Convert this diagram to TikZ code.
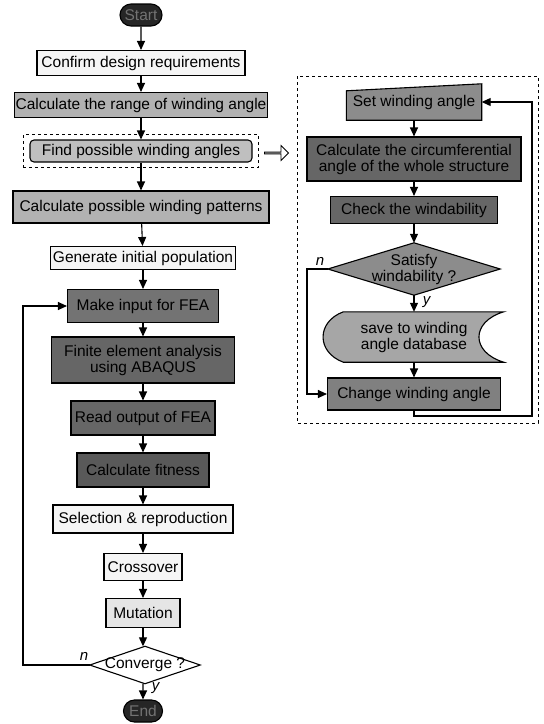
\documentclass[tikz,border=0pt]{standalone}
\usepackage{fontspec}
\setmainfont{Liberation Sans}
\usetikzlibrary{shapes.misc,shapes.arrows,arrows.meta,fit,backgrounds}

\begin{document}
\begin{tikzpicture}[x=1pt, y=-1pt, font=\fontsize{15.5}{16}\selectfont,
	box/.style={draw, line width=1.1pt, inner sep=1pt, align=center},
	term/.style={rounded rectangle, draw, line width=1.1pt, fill=black!85, text=black!55, minimum width=44, minimum height=22, inner sep=1pt},
	cond/.style={inner sep=0pt, align=center},
	condshape/.style={line width=1.1pt},
	arr/.style={-{Triangle[length=9pt,width=8pt]}, line width=1.1pt},
	lbl/.style={font=\fontsize{15}{16}\selectfont\itshape}]
	\useasboundingbox (0,0) rectangle (544,724);
	%main flow
	\node[term] (start) at (141,15) {Start};
	\node[box, fill=black!4, minimum width=208, minimum height=25] (confirm) at (141,63) {Confirm design requirements};
	\node[box, fill=black!30, minimum width=251, minimum height=25] (range) at (141,105) {Calculate the range of winding angle};
	\node[box, rounded corners=4pt, fill=black!25, minimum width=222, minimum height=22] (find) at (141,151) {Find possible winding angles};
	\node[draw, dashed, line width=0.8pt, fit=(find), inner xsep=6pt, inner ysep=5pt] (findframe) {};
	\node[box, fill=black!30, minimum width=256, minimum height=32] (patterns) at (141,207) {Calculate possible winding patterns};
	\node[box, fill=black!4, minimum width=185, minimum height=23] (initpop) at (143,258) {Generate initial population};
	\node[box, fill=black!55, minimum width=151, minimum height=33] (input) at (143,306) {Make input for FEA};
	\node[box, fill=black!60, minimum width=183, minimum height=46] (fea) at (143,360) {Finite element analysis\\using ABAQUS};
	\node[box, fill=black!60, minimum width=144, minimum height=34] (output) at (143,418) {Read output of FEA};
	\node[box, fill=black!65, minimum width=132, minimum height=34] (fitness) at (143,470) {Calculate fitness};
	\node[box, fill=black!4, minimum width=180, minimum height=28] (select) at (143,519) {Selection \& reproduction};
	\node[box, fill=black!4, minimum width=78, minimum height=27] (cross) at (143,567) {Crossover};
	\node[box, fill=black!10, minimum width=74, minimum height=29] (mutate) at (143,613) {Mutation};
	\node[cond, minimum width=110, minimum height=37] (converge) at (145,665) {Converge ?};
	\node[term, minimum width=41] (end) at (143,711) {End};
	\begin{pgfonlayer}{background}
		\filldraw[condshape, fill=white] (converge.north) -- (converge.east) -- (converge.south) -- (converge.west) -- cycle;
	\end{pgfonlayer}
	\coordinate (loopL) at (23,665);
	\draw[arr] (start) -- (confirm);
	\draw[arr] (confirm) -- (range);
	\draw[arr] (range) -- (find);
	\draw[arr] (find) -- (patterns);
	\draw[arr] (patterns) -- (initpop);
	\draw[arr] (initpop) -- (input);
	\draw[arr] (input) -- (fea);
	\draw[arr] (fea) -- (output);
	\draw[arr] (output) -- (fitness);
	\draw[arr] (fitness) -- (select);
	\draw[arr] (select) -- (cross);
	\draw[arr] (cross) -- (mutate);
	\draw[arr] (mutate) -- (mutate |- converge.north);
	\draw[arr] (mutate |- converge.south) -- (end) node[lbl, pos=0.3, right=5pt] {y};
	\draw[arr] (converge.west) -- (loopL) |- (input.west);
	\node[lbl] (nleft) at (84,656) {n};
	%link to the detail
	\node[single arrow, draw, line width=0.8pt, fill=white, minimum width=15, minimum height=24, single arrow head extend=3pt, inner sep=0pt] (hollow) at (276,153) {};
	%detail of find possible winding angles
	\draw[dashed, line width=0.8pt] (297,76) rectangle (538,423);
	\node[minimum width=135, minimum height=36, inner sep=1pt] (setang) at (414,102) {Set winding angle};
	\node[box, fill=black!60, minimum width=214, minimum height=44] (circum) at (414,159) {Calculate the circumferential\\angle of the whole structure};
	\node[box, fill=black!60, minimum width=167, minimum height=27] (check) at (414,210) {Check the windability};
	\node[cond, minimum width=172, minimum height=52] (satisfy) at (414,269) {Satisfy\\windability ?};
	\node[minimum width=179, minimum height=50, align=center, inner sep=1pt] (save) at (414,337) {save to winding\\angle database};
	\node[box, fill=black!50, minimum width=173, minimum height=32] (change) at (414,394) {Change winding angle};
	\begin{pgfonlayer}{background}
		\filldraw[fill=black!45, line width=1.1pt] (setang.south west) -- (setang.south east) -- (setang.north east) -- ([yshift=-7pt]setang.north west) -- cycle;
		\filldraw[condshape, fill=black!45] (satisfy.north) -- (satisfy.east) -- (satisfy.south) -- (satisfy.west) -- cycle;
		\filldraw[fill=black!35, line width=1.1pt] ([xshift=19pt]save.north west) -- (save.north east)
		.. controls ([xshift=-33pt,yshift=-10pt]save.north east) and ([xshift=-33pt,yshift=10pt]save.south east) .. (save.south east)
		-- ([xshift=19pt]save.south west)
		.. controls ([xshift=-8pt,yshift=10pt]save.south west) and ([xshift=-8pt,yshift=-10pt]save.north west) .. ([xshift=19pt]save.north west) -- cycle;
	\end{pgfonlayer}
	\coordinate (nR) at (307,269);
	\coordinate (backA) at (414,416);
	\coordinate (backB) at (532,416);
	\draw[arr] (setang) -- (circum);
	\draw[arr] (circum) -- (check);
	\draw[arr] (check) -- (satisfy.north);
	\draw[arr] (satisfy.south) -- (save) node[lbl, pos=0.4, right=5pt] {y};
	\draw[arr] (save) -- (change);
	\draw[arr] (satisfy.west) -- (nR) |- (change.west);
	\node[lbl] (nright) at (320,261) {n};
	\draw[arr] (change.south) -- (backA) -- (backB) |- (setang.east);
\end{tikzpicture}
\end{document}
